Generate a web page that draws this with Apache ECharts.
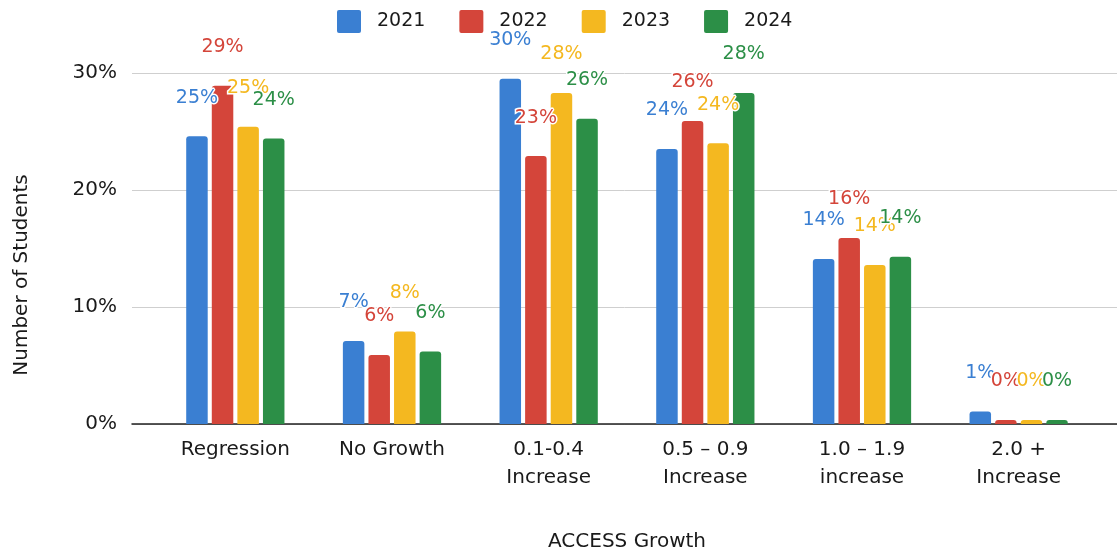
<!DOCTYPE html>
<html>
<head>
<meta charset="utf-8">
<script src="https://cdn.jsdelivr.net/npm/echarts@6/dist/echarts.min.js"></script>
<style>
  html, body { margin: 0; padding: 0; background: #fff; }
  #chart { width: 1117px; height: 557px; }
</style>
</head>
<body>
<div id="chart"></div>
<script>
const categories = ['Regression', 'No Growth', '0.1-0.4\nIncrease', '0.5 \u2013 0.9\nIncrease', '1.0 \u2013 1.9\nincrease', '2.0 +\nIncrease'];
const years = ['2021', '2022', '2023', '2024'];
const values2021 = [24.6, 7.1, 29.5, 23.5, 14.1, 1.07];
const values2022 = [28.9, 5.9, 22.9, 25.9, 15.9, 0.35];
const values2023 = [25.4, 7.9, 28.3, 24.0, 13.6, 0.35];
const values2024 = [24.4, 6.2, 26.1, 28.3, 14.3, 0.35];
const yTicks = [0, 10, 20, 30];

const colors = ['#3a7fd2', '#d4453a', '#f4b820', '#2c8f47'];
const allValues = [values2021, values2022, values2023, values2024];
const FONT = 'DejaVu Sans';

const chart = echarts.init(document.getElementById('chart'), null, { renderer: 'canvas' });

const series = years.map((y, i) => ({
  name: y,
  type: 'bar',
  xAxisIndex: 1,
  yAxisIndex: 1,
  data: allValues[i],
  barWidth: 21.5,
  barGap: '19%',
  itemStyle: { color: colors[i], borderRadius: [3, 3, 0, 0] },
  label: {
    show: true,
    position: 'top',
    distance: 29,
    formatter: p => Math.round(p.value) + '%',
    color: colors[i],
    fontFamily: FONT,
    fontSize: 19,
    textBorderColor: '#fff',
    textBorderWidth: 3
  },
  z: 3
}));

const option = {
  backgroundColor: '#fff',
  animation: false,
  color: colors,
  legend: {
    data: years,
    left: 332,
    top: 5,
    icon: 'path://M2,0 H22 Q24,0 24,2 V21 Q24,23 22,23 H2 Q0,23 0,21 V2 Q0,0 2,0 Z',
    itemWidth: 24,
    itemHeight: 23,
    itemGap: 34,
    textStyle: { fontFamily: FONT, fontSize: 19, color: '#1a1a1a', padding: [0, 0, 0, 11] }
  },
  grid: [
    { left: 132, right: 0, top: 73, bottom: 133 },
    { left: 157, right: 20, top: 73, bottom: 133 }
  ],
  xAxis: [
    {
      gridIndex: 0,
      type: 'category',
      data: [''],
      axisLine: { show: true, lineStyle: { color: '#222', width: 1.5 } },
      axisTick: { show: false },
      axisLabel: { show: false },
      splitLine: { show: false }
    },
    {
      gridIndex: 1,
      type: 'category',
      data: categories,
      axisLine: { show: false },
      axisTick: { show: false },
      axisLabel: {
        fontFamily: FONT, fontSize: 20, color: '#1a1a1a', lineHeight: 28, margin: 12, interval: 0
      },
      name: 'ACCESS Growth',
      nameLocation: 'middle',
      nameGap: 108,
      nameTextStyle: { fontFamily: FONT, fontSize: 20, color: '#1a1a1a' }
    }
  ],
  yAxis: [
    {
      gridIndex: 0,
      type: 'value',
      min: yTicks[0],
      max: yTicks[yTicks.length - 1],
      interval: 10,
      axisLine: { show: false },
      axisTick: { show: false },
      axisLabel: { formatter: '{value}%', fontFamily: FONT, fontSize: 20, color: '#1a1a1a', margin: 15 },
      splitLine: { show: true, lineStyle: { color: '#cfcfcf', width: 1 } }
    },
    {
      gridIndex: 1,
      type: 'value',
      min: yTicks[0],
      max: yTicks[yTicks.length - 1],
      interval: 10,
      show: false,
      splitLine: { show: false }
    }
  ],
  graphic: [
    {
      type: 'text',
      x: 22,
      y: 275,
      rotation: Math.PI / 2,
      style: {
        text: 'Number of Students',
        fontFamily: FONT,
        fontSize: 20,
        fill: '#1a1a1a',
        textAlign: 'center',
        textVerticalAlign: 'middle'
      }
    }
  ],
  series: series
};

chart.setOption(option);
</script>
</body>
</html>
